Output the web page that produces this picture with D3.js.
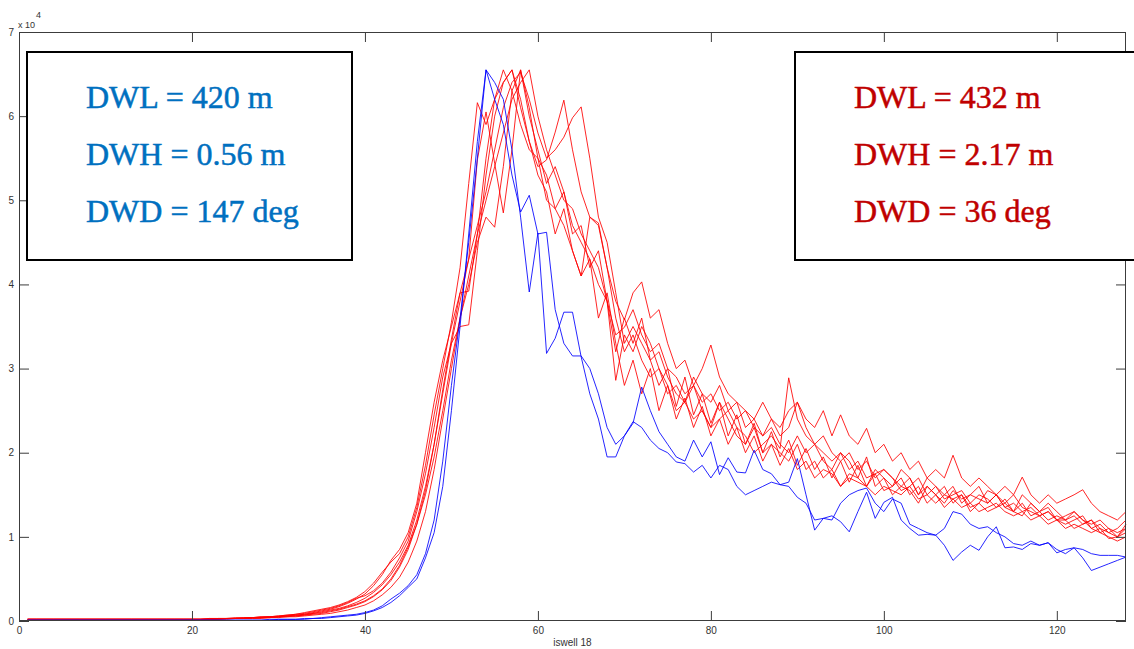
<!DOCTYPE html>
<html>
<head>
<meta charset="utf-8">
<script src="https://cdn.jsdelivr.net/npm/d3@7"></script>
<style>
  html, body { margin: 0; padding: 0; background: #fff; }
  svg { display: block; }
</style>
</head>
<body>
<svg id="chart" width="1134" height="649"></svg>
<script>
// ---------- data (values in units of 1e4), x = 1..128 ----------
const xTicks = [0, 20, 40, 60, 80, 100, 120];
const yTicks = [0, 1, 2, 3, 4, 5, 6, 7];
const xLabel = "iswell  18";
const leftBoxLines = ["DWL = 420 m", "DWH = 0.56 m", "DWD = 147 deg"];
const rightBoxLines = ["DWL = 432 m", "DWH = 2.17 m", "DWD = 36 deg"];

const blueP = [
 0.01,0.01,0.01,0.01,0.01,0.01,0.01,0.01,0.01,0.01,
 0.01,0.01,0.01,0.01,0.01,0.01,0.01,0.01,0.01,0.01,
 0.01,0.01,0.01,0.01,0.01,0.01,0.01,0.01,0.02,0.02,
 0.02,0.02,0.03,0.03,0.04,0.05,0.06,0.07,0.08,0.10,
 0.13,0.18,0.26,0.33,0.42,0.55,0.80,1.20,1.90,2.80,
 3.60,4.50,5.50,6.55,6.20,5.90,5.30,4.86,5.06,4.60,
 4.62,3.70,3.30,3.15,3.15,3.00,2.70,2.30,2.10,2.20,
 2.35,2.78,2.50,2.25,2.10,1.95,1.90,2.15,1.95,2.13,
 1.74,1.94,1.77,1.76,2.03,1.80,1.75,1.62,1.65,1.93,
 1.50,1.08,1.22,1.25,1.18,1.06,1.30,1.53,1.22,1.41,
 1.47,1.20,1.10,1.02,1.03,1.02,0.90,0.72,0.82,0.90,
 0.84,1.00,1.12,0.87,0.88,0.85,0.92,0.90,0.93,0.81,
 0.85,0.87,0.75,0.60,0.64,0.68,0.72,0.76];

const blueQ = [
 0.01,0.01,0.01,0.01,0.01,0.01,0.01,0.01,0.01,0.01,
 0.01,0.01,0.01,0.01,0.01,0.01,0.01,0.01,0.01,0.01,
 0.01,0.01,0.01,0.01,0.01,0.01,0.01,0.01,0.01,0.02,
 0.02,0.02,0.02,0.03,0.03,0.04,0.05,0.06,0.07,0.09,
 0.12,0.16,0.22,0.30,0.40,0.50,0.75,1.05,1.60,2.50,
 3.50,4.60,5.70,6.55,6.40,6.20,5.60,4.80,3.91,4.61,
 3.18,3.36,3.67,3.67,3.14,2.70,2.40,1.95,1.95,2.20,
 2.37,2.30,2.15,2.05,2.00,1.89,1.87,1.77,1.85,1.70,
 1.85,1.80,1.60,1.50,1.55,1.60,1.65,1.62,1.60,1.47,
 1.40,1.20,1.22,1.20,1.40,1.50,1.55,1.58,1.40,1.30,
 1.45,1.40,1.15,1.10,1.05,1.02,1.10,1.30,1.27,1.15,
 1.10,1.12,1.05,1.00,0.92,0.90,0.95,0.90,0.93,0.85,
 0.80,0.87,0.85,0.80,0.78,0.78,0.78,0.76];

const red1 = [
 0.02,0.02,0.02,0.02,0.02,0.02,0.02,0.02,0.02,0.02,
 0.02,0.02,0.02,0.02,0.02,0.02,0.02,0.02,0.02,0.02,
 0.02,0.02,0.03,0.03,0.03,0.03,0.04,0.04,0.05,0.05,
 0.06,0.07,0.08,0.10,0.12,0.14,0.17,0.21,0.26,0.32,
 0.42,0.55,0.72,0.85,1.05,1.40,2.00,2.60,3.10,3.50,
 3.90,3.92,4.60,5.50,6.20,6.55,6.30,5.90,5.60,5.50,
 5.30,4.90,5.10,4.60,4.70,4.20,4.40,3.80,3.20,3.60,
 3.30,3.60,3.10,2.80,3.00,2.55,2.90,2.45,2.70,2.35,
 2.60,2.20,2.45,2.10,2.35,2.00,2.25,1.95,2.15,1.85,
 2.05,1.80,1.95,1.70,1.90,1.65,1.85,1.60,1.75,1.55,
 1.60,1.80,1.70,1.50,1.70,1.60,1.50,1.60,1.40,1.50,
 1.60,1.40,1.50,1.40,1.30,1.50,1.40,1.30,1.40,1.30,
 1.20,1.30,1.20,1.15,1.20,1.10,1.05,1.10];

const red2 = [
 0.02,0.02,0.02,0.02,0.02,0.02,0.02,0.02,0.02,0.02,
 0.02,0.02,0.02,0.02,0.02,0.02,0.02,0.02,0.02,0.02,
 0.02,0.03,0.03,0.03,0.03,0.04,0.04,0.05,0.05,0.06,
 0.07,0.08,0.09,0.11,0.13,0.15,0.18,0.22,0.27,0.30,
 0.36,0.45,0.58,0.75,0.95,1.30,1.75,2.30,2.90,3.30,
 3.50,3.52,4.40,5.30,6.00,6.40,6.55,6.10,5.70,5.40,
 5.48,5.81,6.19,5.60,5.10,4.80,4.70,4.20,3.80,3.58,
 3.90,4.03,3.60,3.70,3.30,3.00,3.10,2.80,3.00,3.28,
 2.90,2.70,2.60,2.50,2.40,2.60,2.40,2.30,2.50,2.60,
 2.40,2.30,2.50,2.20,2.45,2.20,2.10,2.29,2.00,2.10,
 1.90,2.00,1.80,1.90,1.70,1.80,1.70,1.97,1.70,1.60,
 1.70,1.60,1.50,1.60,1.50,1.71,1.50,1.40,1.50,1.40,
 1.45,1.50,1.56,1.40,1.30,1.25,1.20,1.30];

const red3 = [
 0.02,0.02,0.02,0.02,0.02,0.02,0.02,0.02,0.02,0.02,
 0.02,0.02,0.02,0.02,0.02,0.02,0.02,0.02,0.02,0.02,
 0.02,0.02,0.02,0.03,0.03,0.03,0.03,0.04,0.04,0.05,
 0.05,0.06,0.07,0.08,0.09,0.11,0.13,0.16,0.19,0.23,
 0.29,0.37,0.48,0.64,0.85,1.15,1.55,2.10,2.75,3.35,
 3.90,4.30,4.70,5.10,5.60,6.10,6.40,6.52,6.20,5.80,
 5.50,5.60,5.75,5.98,6.11,5.50,4.80,4.50,3.90,3.30,
 3.50,3.30,3.10,3.20,2.90,2.70,2.60,2.80,2.50,2.30,
 2.40,2.50,2.30,2.20,2.00,2.10,2.20,2.05,2.89,2.40,
 2.20,2.10,2.00,1.90,2.00,1.80,1.90,1.70,1.75,1.80,
 1.70,1.55,1.60,1.70,1.50,1.60,1.45,1.50,1.55,1.40,
 1.50,1.45,1.35,1.40,1.50,1.35,1.30,1.25,1.30,1.20,
 1.15,1.20,1.25,1.10,1.05,1.00,0.95,1.00];

const red4 = [
 0.02,0.02,0.02,0.02,0.02,0.02,0.02,0.02,0.02,0.02,
 0.02,0.02,0.02,0.02,0.02,0.02,0.02,0.02,0.02,0.02,
 0.02,0.02,0.02,0.02,0.03,0.03,0.03,0.03,0.04,0.04,
 0.05,0.05,0.06,0.07,0.08,0.09,0.11,0.13,0.16,0.19,
 0.24,0.31,0.40,0.52,0.70,0.95,1.30,1.80,2.40,3.00,
 3.60,4.10,4.60,5.00,5.40,5.80,6.20,6.40,6.55,6.00,
 5.60,5.30,5.00,4.90,4.60,4.40,4.20,3.80,2.86,3.40,
 3.20,3.50,3.30,3.00,2.70,2.80,2.60,2.90,2.70,2.60,
 2.80,2.50,2.60,2.30,2.40,2.20,2.30,2.10,2.00,2.20,
 2.00,2.10,1.90,1.80,2.00,1.90,1.70,1.60,1.80,1.70,
 1.60,1.70,1.50,1.60,1.40,1.50,1.60,1.40,1.50,1.35,
 1.40,1.55,1.50,1.35,1.40,1.30,1.35,1.25,1.30,1.20,
 1.25,1.30,1.20,1.10,1.15,1.05,1.00,1.05];

const red5 = [
 0.02,0.02,0.02,0.02,0.02,0.02,0.02,0.02,0.02,0.02,
 0.02,0.02,0.02,0.02,0.02,0.02,0.02,0.02,0.02,0.02,
 0.02,0.03,0.03,0.03,0.04,0.04,0.04,0.05,0.05,0.06,
 0.07,0.08,0.10,0.12,0.14,0.16,0.19,0.23,0.28,0.35,
 0.45,0.58,0.70,0.80,1.00,1.35,1.85,2.45,3.00,3.55,
 4.20,5.20,6.16,5.90,6.20,6.40,6.55,6.20,5.70,5.30,
 5.10,4.60,4.90,4.40,4.10,4.30,3.60,3.90,3.30,2.80,
 3.10,2.70,3.00,2.50,2.80,2.40,2.65,2.30,2.55,2.20,
 2.40,2.10,2.30,2.00,2.20,1.90,2.10,1.85,2.05,1.80,
 1.90,1.70,1.80,1.75,1.60,1.70,1.65,1.60,1.50,1.60,
 1.55,1.50,1.60,1.45,1.50,1.40,1.50,1.45,1.35,1.40,
 1.30,1.35,1.40,1.30,1.25,1.30,1.20,1.25,1.15,1.20,
 1.10,1.15,1.10,1.05,1.10,0.98,1.00,1.10];

const red6 = [
 0.02,0.02,0.02,0.02,0.02,0.02,0.02,0.02,0.02,0.02,
 0.02,0.02,0.02,0.02,0.02,0.02,0.02,0.02,0.02,0.02,
 0.02,0.02,0.03,0.03,0.03,0.03,0.04,0.04,0.05,0.05,
 0.06,0.07,0.08,0.09,0.11,0.13,0.15,0.18,0.22,0.27,
 0.34,0.43,0.55,0.70,0.90,1.20,1.60,2.10,2.70,3.30,
 3.80,4.30,5.48,6.05,5.44,4.85,5.60,6.55,6.10,5.50,
 5.00,4.90,4.70,4.40,4.10,4.80,4.73,4.20,3.60,3.20,
 3.40,3.10,2.90,3.00,2.80,2.50,2.60,2.40,2.50,2.30,
 2.60,2.40,2.20,2.10,2.30,2.00,2.10,2.00,1.90,2.10,
 1.80,1.90,1.70,1.80,1.60,1.75,1.70,1.95,1.60,1.70,
 1.50,1.60,1.55,1.40,1.60,1.50,1.35,1.45,1.50,1.30,
 1.40,1.30,1.35,1.45,1.30,1.25,1.40,1.30,1.20,1.25,
 1.20,1.10,1.15,1.20,1.05,1.10,1.00,1.15];

const red7 = [
 0.02,0.02,0.02,0.02,0.02,0.02,0.02,0.02,0.02,0.02,
 0.02,0.02,0.02,0.02,0.02,0.02,0.02,0.02,0.02,0.02,
 0.02,0.02,0.02,0.03,0.03,0.03,0.04,0.04,0.04,0.05,
 0.06,0.06,0.07,0.09,0.10,0.12,0.14,0.17,0.20,0.24,
 0.30,0.38,0.50,0.66,0.88,1.15,1.50,1.95,2.50,3.10,
 3.60,4.00,4.50,4.80,4.68,5.40,6.30,6.55,6.00,5.60,
 5.20,5.40,5.10,4.70,4.50,4.30,4.00,3.80,3.40,3.49,
 3.70,3.40,3.20,3.30,3.00,2.90,2.70,2.80,2.60,2.70,
 2.50,2.60,2.40,2.50,2.30,2.20,2.40,2.20,2.30,2.60,
 2.30,2.10,2.20,2.00,1.90,2.00,1.80,1.90,1.70,1.80,
 1.70,1.60,1.70,1.50,1.60,1.50,1.40,1.55,1.45,1.50,
 1.45,1.40,1.50,1.35,1.30,1.40,1.25,1.30,1.35,1.20,
 1.20,1.25,1.15,1.20,1.10,1.05,1.10,1.20];

const redSeries = [red1, red2, red3, red4, red5, red6, red7];
const blueSeries = [blueP, blueQ];

// ---------- layout ----------
const svg = d3.select("#chart");
const L = 19, R = 1126, T = 32, B = 621;
const x = d3.scaleLinear().domain([0, 128]).range([L, R]);
const y = d3.scaleLinear().domain([0, 7]).range([B, T]);

const axisColor = "#3c3c3c";
const fontAx = "'Liberation Sans', Arial, sans-serif";

svg.append("rect").attr("x", 0).attr("y", 0).attr("width", 1134).attr("height", 649).attr("fill", "#fff");

const line = d3.line()
  .x((d, i) => x(i + 1))
  .y(d => y(d));

const gLines = svg.append("g");
redSeries.forEach(s => {
  gLines.append("path").attr("d", line(s))
    .attr("fill", "none").attr("stroke", "#ff0000")
    .attr("stroke-width", 1).attr("stroke-opacity", 0.85);
});
blueSeries.forEach(s => {
  gLines.append("path").attr("d", line(s))
    .attr("fill", "none").attr("stroke", "#0000ff")
    .attr("stroke-width", 1).attr("stroke-opacity", 0.85);
});

// axes (ticks inward)
function styleAxis(g) {
  g.select(".domain").remove();
  g.selectAll(".tick line").attr("stroke", axisColor);
  g.selectAll(".tick text").attr("fill", "#333").style("font-family", fontAx).style("font-size", "10px");
}
svg.append("g").attr("transform", `translate(0,${B})`)
  .call(d3.axisBottom(x).tickValues(xTicks).tickSizeInner(-10).tickSizeOuter(0).tickPadding(6).tickFormat(d3.format("d")))
  .call(styleAxis);
svg.append("g").attr("transform", `translate(0,${T})`)
  .call(d3.axisTop(x).tickValues(xTicks).tickSizeInner(-10).tickSizeOuter(0).tickFormat(""))
  .call(styleAxis);
svg.append("g").attr("transform", `translate(${L},0)`)
  .call(d3.axisLeft(y).tickValues(yTicks).tickSizeInner(-10).tickSizeOuter(0).tickPadding(5).tickFormat(d3.format("d")))
  .call(styleAxis);
svg.append("g").attr("transform", `translate(${R},0)`)
  .call(d3.axisRight(y).tickValues(yTicks).tickSizeInner(-10).tickSizeOuter(0).tickFormat(""))
  .call(styleAxis);

// frame
svg.append("rect").attr("x", L + 0.5).attr("y", T + 0.5)
  .attr("width", R - L - 1).attr("height", B - T - 1)
  .attr("fill", "none").attr("stroke", axisColor).attr("stroke-width", 1);

// exponent label
const ex = svg.append("text").attr("x", 18).attr("y", 28)
  .style("font-family", fontAx).style("font-size", "9px").attr("fill", "#333");
ex.append("tspan").text("x 10");
ex.append("tspan").attr("dy", -10).attr("dx", 1).text("4");

// x label
svg.append("text").attr("x", (L + R) / 2).attr("y", 646)
  .attr("text-anchor", "middle")
  .style("font-family", fontAx).style("font-size", "10px").attr("fill", "#333")
  .text(xLabel);

// annotation boxes
const fontBox = "'Liberation Serif', 'DejaVu Serif', serif";
function box(x0, x1, lines, color, tx) {
  svg.append("rect").attr("x", x0).attr("y", 52).attr("width", x1 - x0).attr("height", 208)
    .attr("fill", "#fff").attr("stroke", "#000").attr("stroke-width", 2);
  lines.forEach((t, i) => {
    svg.append("text").attr("x", tx).attr("y", 108 + i * 57)
      .style("font-family", fontBox).style("font-size", "32px")
      .attr("fill", color).attr("stroke", color).attr("stroke-width", 0.5)
      .text(t);
  });
}
box(27, 352, leftBoxLines, "#0070c0", 86);
box(795, 1145, rightBoxLines, "#c00000", 854);
</script>
</body>
</html>
